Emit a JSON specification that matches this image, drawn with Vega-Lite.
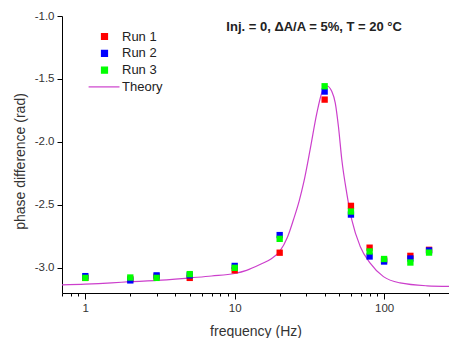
{
  "$schema": "https://vega.github.io/schema/vega-lite/v6.json",
  "width": 387,
  "height": 277,
  "autosize": {"type": "none"},
  "padding": {"left": 62, "top": 16, "right": 0, "bottom": 45},
  "background": "white",
  "config": {
    "view": {"stroke": null},
    "font": "Liberation Sans",
    "locale": {"number": {"decimal": ".", "thousands": ",", "grouping": [3], "currency": ["$", ""], "minus": "-"}},
    "axis": {
      "grid": false,
      "domainColor": "#000000",
      "tickColor": "#000000",
      "labelColor": "#333333",
      "labelFont": "Liberation Sans",
      "labelFontSize": 11.5,
      "titleFont": "Liberation Sans",
      "titleFontSize": 14,
      "titleFontWeight": "normal",
      "titleColor": "#333333"
    }
  },
  "datasets": {
    "runs": [
      {"f": 1, "phase": -3.08, "series": "Run 1"},
      {"f": 2, "phase": -3.09, "series": "Run 1"},
      {"f": 3, "phase": -3.07, "series": "Run 1"},
      {"f": 5, "phase": -3.08, "series": "Run 1"},
      {"f": 10, "phase": -3.02, "series": "Run 1"},
      {"f": 20, "phase": -2.88, "series": "Run 1"},
      {"f": 40, "phase": -1.664, "series": "Run 1"},
      {"f": 60, "phase": -2.508, "series": "Run 1"},
      {"f": 80, "phase": -2.84, "series": "Run 1"},
      {"f": 100, "phase": -2.94, "series": "Run 1"},
      {"f": 150, "phase": -2.905, "series": "Run 1"},
      {"f": 200, "phase": -2.857, "series": "Run 1"},
      {"f": 1, "phase": -3.066, "series": "Run 2"},
      {"f": 2, "phase": -3.1, "series": "Run 2"},
      {"f": 3, "phase": -3.06, "series": "Run 2"},
      {"f": 5, "phase": -3.06, "series": "Run 2"},
      {"f": 10, "phase": -2.985, "series": "Run 2"},
      {"f": 20, "phase": -2.74, "series": "Run 2"},
      {"f": 40, "phase": -1.6, "series": "Run 2"},
      {"f": 60, "phase": -2.577, "series": "Run 2"},
      {"f": 80, "phase": -2.91, "series": "Run 2"},
      {"f": 100, "phase": -2.95, "series": "Run 2"},
      {"f": 150, "phase": -2.926, "series": "Run 2"},
      {"f": 200, "phase": -2.862, "series": "Run 2"},
      {"f": 1, "phase": -3.08, "series": "Run 3"},
      {"f": 2, "phase": -3.077, "series": "Run 3"},
      {"f": 3, "phase": -3.08, "series": "Run 3"},
      {"f": 5, "phase": -3.05, "series": "Run 3"},
      {"f": 10, "phase": -3.0, "series": "Run 3"},
      {"f": 20, "phase": -2.77, "series": "Run 3"},
      {"f": 40, "phase": -1.558, "series": "Run 3"},
      {"f": 60, "phase": -2.553, "series": "Run 3"},
      {"f": 80, "phase": -2.87, "series": "Run 3"},
      {"f": 100, "phase": -2.93, "series": "Run 3"},
      {"f": 150, "phase": -2.958, "series": "Run 3"},
      {"f": 200, "phase": -2.879, "series": "Run 3"}
    ],
    "theory": [
      {"f": 0.698, "phase": -3.135, "series": "Theory"},
      {"f": 1, "phase": -3.13, "series": "Theory"},
      {"f": 1.5, "phase": -3.12, "series": "Theory"},
      {"f": 2, "phase": -3.11, "series": "Theory"},
      {"f": 3, "phase": -3.1, "series": "Theory"},
      {"f": 4, "phase": -3.09, "series": "Theory"},
      {"f": 5, "phase": -3.08, "series": "Theory"},
      {"f": 7, "phase": -3.065, "series": "Theory"},
      {"f": 10, "phase": -3.045, "series": "Theory"},
      {"f": 12, "phase": -3.02, "series": "Theory"},
      {"f": 15, "phase": -2.97, "series": "Theory"},
      {"f": 17.5, "phase": -2.93, "series": "Theory"},
      {"f": 20, "phase": -2.87, "series": "Theory"},
      {"f": 22.5, "phase": -2.76, "series": "Theory"},
      {"f": 24.7, "phase": -2.62, "series": "Theory"},
      {"f": 27, "phase": -2.47, "series": "Theory"},
      {"f": 29, "phase": -2.32, "series": "Theory"},
      {"f": 32, "phase": -2.06, "series": "Theory"},
      {"f": 35.5, "phase": -1.77, "series": "Theory"},
      {"f": 38.3, "phase": -1.61, "series": "Theory"},
      {"f": 41.4, "phase": -1.556, "series": "Theory"},
      {"f": 44.7, "phase": -1.6, "series": "Theory"},
      {"f": 47.1, "phase": -1.69, "series": "Theory"},
      {"f": 49.5, "phase": -1.88, "series": "Theory"},
      {"f": 52.1, "phase": -2.14, "series": "Theory"},
      {"f": 56.3, "phase": -2.41, "series": "Theory"},
      {"f": 60.8, "phase": -2.62, "series": "Theory"},
      {"f": 69.2, "phase": -2.83, "series": "Theory"},
      {"f": 80.7, "phase": -2.963, "series": "Theory"},
      {"f": 99, "phase": -3.07, "series": "Theory"},
      {"f": 128, "phase": -3.12, "series": "Theory"},
      {"f": 194, "phase": -3.143, "series": "Theory"},
      {"f": 272, "phase": -3.148, "series": "Theory"}
    ]
  },
  "layer": [
    {
      "data": {"name": "theory"},
      "mark": {"type": "line", "interpolate": "monotone", "strokeWidth": 1.2},
      "encoding": {
        "x": {
          "field": "f",
          "type": "quantitative",
          "title": "frequency (Hz)",
          "scale": {"type": "log", "domain": [0.698, 272], "nice": false},
          "axis": {
            "values": [0.7, 0.8, 0.9, 1, 2, 3, 4, 5, 6, 7, 8, 9, 10, 20, 30, 40, 50, 60, 70, 80, 90, 100, 200],
            "labelExpr": "indexof([1, 10, 100], datum.value) >= 0 ? format(datum.value, 'd') : ''",
            "tickSize": {"condition": {"test": "indexof([1, 10, 100], datum.value) >= 0", "value": 6}, "value": 3},
            "labelPadding": 3,
            "titlePadding": 10.5,
            "labelFlush": false,
            "labelOverlap": false
          }
        },
        "y": {
          "field": "phase",
          "type": "quantitative",
          "title": "phase difference (rad)",
          "scale": {"domain": [-3.2, -1.0], "nice": false, "zero": false},
          "axis": {
            "values": [-3.0, -2.75, -2.5, -2.25, -2.0, -1.75, -1.5, -1.25, -1.0],
            "labelExpr": "abs(datum.value * 2 - round(datum.value * 2)) < 0.001 ? format(datum.value, '.1f') : ''",
            "tickSize": {"condition": {"test": "abs(datum.value * 2 - round(datum.value * 2)) < 0.001", "value": 5}, "value": 3},
            "labelPadding": 3,
            "titlePadding": 6.5,
            "titleY": 145,
            "labelOverlap": false
          }
        },
        "color": {
          "field": "series",
          "type": "nominal",
          "scale": {"domain": ["Run 1", "Run 2", "Run 3", "Theory"], "range": ["#ff0000", "#0000ff", "#00ff00", "#cc3fcc"]},
          "legend": {
            "orient": "none",
            "legendX": 36,
            "legendY": 14,
            "title": null,
            "padding": 0,
            "labelFont": "Liberation Sans",
            "labelFontSize": 13,
            "labelColor": "#222222",
            "labelOffset": 11,
            "symbolSize": 36,
            "rowPadding": 2.8,
            "encode": {
              "symbols": {
                "update": {
                  "shape": {"signal": "datum.value === 'Theory' ? 'M-5.3,0H5' : 'square'"},
                  "fill": {"signal": "datum.value === 'Theory' ? 'transparent' : scale('color', datum.value)"},
                  "stroke": {"signal": "datum.value === 'Theory' ? scale('color', datum.value) : 'transparent'"},
                  "strokeWidth": {"value": 1.2},
                  "opacity": {"value": 1}
                }
              }
            }
          }
        }
      }
    },
    {
      "data": {"name": "runs"},
      "mark": {"type": "square", "size": 40, "opacity": 1, "filled": true},
      "encoding": {
        "x": {"field": "f", "type": "quantitative"},
        "y": {"field": "phase", "type": "quantitative"},
        "color": {"field": "series", "type": "nominal"}
      }
    },
    {
      "data": {"values": [{"label": "Inj. = 0, ΔA/A = 5%, T = 20 °C"}]},
      "mark": {"type": "text", "font": "Liberation Sans", "fontSize": 13, "fontWeight": "bold", "color": "#222222", "align": "center", "baseline": "middle"},
      "encoding": {
        "x": {"datum": 34, "type": "quantitative"},
        "y": {"datum": -1.0897, "type": "quantitative"},
        "text": {"field": "label", "type": "nominal"}
      }
    }
  ]
}
